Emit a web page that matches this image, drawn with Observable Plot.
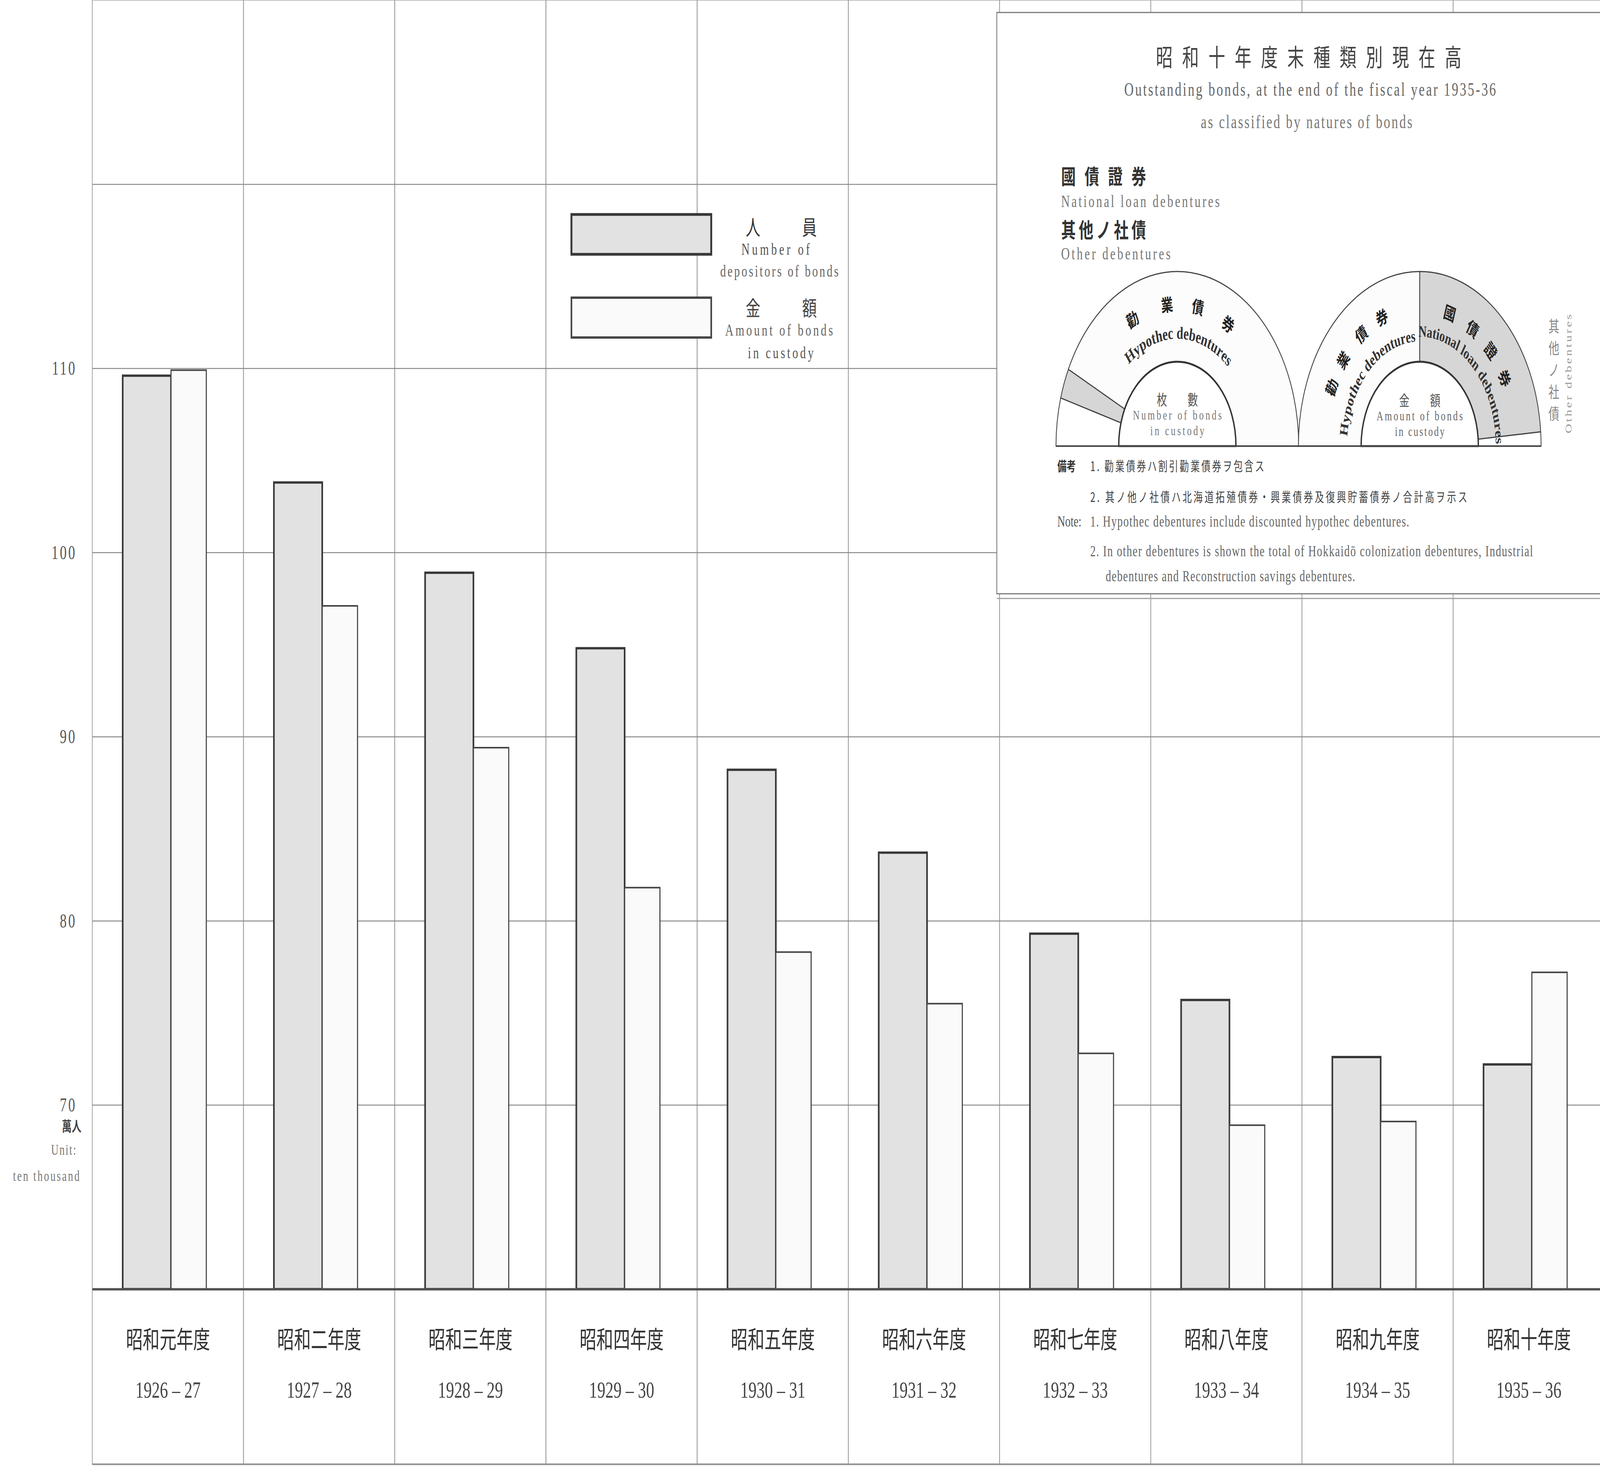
<!DOCTYPE html>
<html><head><meta charset="utf-8">
<script src="https://cdn.jsdelivr.net/npm/d3@7"></script>
<script src="https://cdn.jsdelivr.net/npm/@observablehq/plot@0.6"></script>
<style>
html,body{margin:0;padding:0;background:#fff;overflow:hidden;width:100%;height:100%}
#chart{position:relative;width:100%;height:100%;overflow:hidden}
#chart svg{display:block;overflow:hidden}
#chart [aria-label="y-axis tick label"] text{letter-spacing:6px}
</style></head><body><div id="chart"></div>
<script>
// ---- data ----
const years = ["1926","1927","1928","1929","1930","1931","1932","1933","1934","1935"];
const jpLabels = ["昭和元年度","昭和二年度","昭和三年度","昭和四年度","昭和五年度","昭和六年度","昭和七年度","昭和八年度","昭和九年度","昭和十年度"];
const fiscalLabels = ["1926 – 27","1927 – 28","1928 – 29","1929 – 30","1930 – 31","1931 – 32","1932 – 33","1933 – 34","1934 – 35","1935 – 36"];
// 人員 Number of depositors of bonds (unit: ten thousand)
const depositors = [109.6,103.8,98.9,94.8,88.2,83.7,79.3,75.7,72.6,72.2];
// 金額 Amount of bonds in custody
const amounts = [109.9,97.1,89.4,81.8,78.3,75.5,72.8,68.9,69.1,77.2];
const yTicks = [70,80,90,100,110];
const gridLines = [70,80,90,100,110,120];
const legendJp = ["人　員","金　額"];
const legendEn = [["Number of","depositors of bonds"],["Amount of bonds","in custody"]];
// inset: 1935-36 outstanding bonds by kind (share of half circle, %)
const pieNumberCats = ["其他ノ社債","國債證券","勸業債券"];
const pieNumberShare = [8.9,5.6,85.5];
const pieAmountCats = ["勸業債券","國債證券","其他ノ社債"];
const pieAmountShare = [50.0,47.4,2.6];

const rows = years.map((y,i)=>({year:y, jp:jpLabels[i], fiscal:fiscalLabels[i], depositors:depositors[i], amount:amounts[i]}));

const W = 5894, H = 3758;
const SERIF = "'Liberation Serif','DejaVu Serif',serif";
const CJK = "'Noto Sans CJK JP','Noto Sans CJK TC',sans-serif";
const measureCtx = document.createElement("canvas").getContext("2d");

function txt(parent, s, x, y, o = {}) {
  const t = parent.append("text").attr("x", x).attr("y", y)
    .attr("dominant-baseline", o.baseline || "central")
    .attr("font-family", o.family || SERIF)
    .attr("font-size", o.size || 44)
    .attr("fill", o.fill || "#444")
    .attr("text-anchor", o.anchor || "start")
    .text(s);
  if (o.weight) t.attr("font-weight", o.weight);
  if (o.len) t.attr("textLength", o.len).attr("lengthAdjust", o.adjust || "spacing");
  if (o.transform) t.attr("transform", o.transform);
  return t;
}

function legendMark() {
  const g = d3.create("svg:g");
  const fills = ["#e2e2e2", "#fafafa"], strokes = ["#383838", "#454545"], sw = [7, 6];
  const ys = [549, 762];
  ys.forEach((y, i) => {
    g.append("rect").attr("x", 2105).attr("y", y).attr("width", 515).attr("height", 102)
      .attr("fill", fills[i]).attr("stroke", strokes[i]).attr("stroke-width", sw[i]);
  });
  txt(g, legendJp[0], 2878, 578, {family: CJK, size: 54, anchor: "middle", fill: "#333", len: 262});
  txt(g, legendEn[0][0], 2857, 638, {size: 42, anchor: "middle", fill: "#555", len: 252});
  txt(g, legendEn[0][1], 2871, 694, {size: 42, anchor: "middle", fill: "#666", len: 436});
  txt(g, legendJp[1], 2878, 785, {family: CJK, size: 54, anchor: "middle", fill: "#444", len: 262});
  txt(g, legendEn[1][0], 2870, 845, {size: 42, anchor: "middle", fill: "#666", len: 397});
  txt(g, legendEn[1][1], 2876, 903, {size: 42, anchor: "middle", fill: "#555", len: 242});
  // unit label
  txt(g, "萬人", 300, 2881, {family: CJK, size: 36, anchor: "end", fill: "#444", weight: 700});
  txt(g, "Unit:", 280, 2943, {size: 38, anchor: "end", fill: "#777", len: 92});
  txt(g, "ten thousand", 293, 3010, {size: 38, anchor: "end", fill: "#777", len: 245});
  return g.node();
}

function insetMark() {
  const g = d3.create("svg:g").attr("transform", "translate(3672,32)");
  g.append("rect").attr("width", 2240).attr("height", 1488).attr("fill", "#fff");
  g.append("path").attr("d", "M2240,0H0V1488H2240").attr("fill", "none").attr("stroke", "#7a7a7a").attr("stroke-width", 3);
  g.append("path").attr("d", "M0,1500H2240").attr("fill", "none").attr("stroke", "#a0a0a0").attr("stroke-width", 3);

  txt(g, "昭和十年度末種類別現在高", 1149, 111, {family: CJK, size: 62, anchor: "middle", fill: "#444", len: 1126});
  txt(g, "Outstanding bonds, at the end of the fiscal year 1935-36", 1154, 197, {size: 48, anchor: "middle", fill: "#666", len: 1369});
  txt(g, "as classified by natures of bonds", 1141, 280, {size: 48, anchor: "middle", fill: "#777", len: 779});

  txt(g, "國債證券", 237, 416, {family: CJK, size: 54, fill: "#333", weight: 700, len: 313});
  txt(g, "National loan debentures", 237, 483, {size: 44, fill: "#777", len: 584});
  txt(g, "其他ノ社債", 237, 553, {family: CJK, size: 54, fill: "#333", weight: 700, len: 313});
  txt(g, "Other debentures", 237, 617, {size: 44, fill: "#777", len: 403});

  const R = 447, r0 = 216, cy = 1110;
  const fillFor = {"勸業債券": "#fcfcfc", "國債證券": "#d6d6d6", "其他ノ社債": "#ffffff"};
  const rad = a => a * Math.PI / 180;
  const pt = (cx, r, a) => [cx + r * Math.sin(rad(a)), cy - r * Math.cos(rad(a))];
  const pie = d3.pie().sort(null).startAngle(-Math.PI / 2).endAngle(Math.PI / 2);
  const arc = d3.arc().innerRadius(r0).outerRadius(R);
  const innerArc = d3.arc().innerRadius(0).outerRadius(r0).startAngle(-Math.PI / 2).endAngle(Math.PI / 2);

  function half(cx, cats, vals) {
    const h = g.append("g").attr("transform", `translate(${cx},${cy})`);
    h.selectAll("path.slice").data(pie(vals)).join("path").attr("class", "slice")
      .attr("d", arc).attr("fill", (d, i) => fillFor[cats[i]])
      .attr("stroke", "#444").attr("stroke-width", 3).attr("stroke-linejoin", "round");
    h.append("path").attr("d", innerArc()).attr("fill", "#fff").attr("stroke", "#333").attr("stroke-width", 5);
  }
  // text laid along an arc, glyph by glyph (baseline on radius r), centred on angle a
  function arcText(cx, r, a, s, size) {
    measureCtx.font = `bold ${size}px "Liberation Serif"`;
    const chars = [...s];
    const ws = chars.map(c => measureCtx.measureText(c).width);
    const total = d3.sum(ws);
    let acc = 0;
    const start = a - (total / 2 / r) * 180 / Math.PI;
    chars.forEach((c, i) => {
      const ang = start + ((acc + ws[i] / 2) / r) * 180 / Math.PI;
      acc += ws[i];
      if (c === " ") return;
      const p = pt(cx, r, ang);
      txt(g, c, p[0], p[1], {size, weight: 700, anchor: "middle", fill: "#333", baseline: "alphabetic",
        transform: `rotate(${ang},${p[0]},${p[1]})`});
    });
  }
  function charsOnArc(cx, r, angles, s) {
    [...s].forEach((c, i) => {
      const p = pt(cx, r, angles[i]);
      txt(g, c, p[0], p[1], {family: CJK, size: 44, weight: 700, anchor: "middle", fill: "#222",
        transform: `rotate(${angles[i]},${p[0]},${p[1]})`});
    });
  }

  const cxL = 665, cxR = 1558;
  half(cxL, pieNumberCats, pieNumberShare);
  half(cxR, pieAmountCats, pieAmountShare);
  g.append("path").attr("d", `M${cxL - R},${cy}H${cxR + R}`).attr("stroke", "#444").attr("stroke-width", 4);

  charsOnArc(cxL, 366, [-27, -6, 12, 31], "勸業債券");
  arcText(cxL, 275, 1, "Hypothec debentures", 44);
  charsOnArc(cxR, 360, [-65, -52, -37, -23], "勸業債券");
  arcText(cxR, 268, -44, "Hypothec debentures", 42);
  charsOnArc(cxR, 360, [18, 33, 47, 61], "國債證券");
  arcText(cxR, 280, 44, "National loan debentures", 41);

  txt(g, "枚　　數", cxL, 988, {family: CJK, size: 38, anchor: "middle", fill: "#555"});
  txt(g, "Number of bonds", cxL, 1030, {size: 34, anchor: "middle", fill: "#777", len: 327});
  txt(g, "in custody", cxL, 1070, {size: 34, anchor: "middle", fill: "#777", len: 199});
  txt(g, "金　　額", cxR, 990, {family: CJK, size: 38, anchor: "middle", fill: "#555"});
  txt(g, "Amount of bonds", cxR, 1032, {size: 34, anchor: "middle", fill: "#666", len: 318});
  txt(g, "in custody", cxR, 1072, {size: 34, anchor: "middle", fill: "#666", len: 183});

  [..."其他ノ社債"].forEach((c, i) => txt(g, c, 2052, 801 + i * 56, {family: CJK, size: 40, anchor: "middle", fill: "#888"}));
  txt(g, "Other debentures", 2106, 925, {size: 34, anchor: "middle", fill: "#999", len: 305, transform: "rotate(-90,2106,925)"});

  txt(g, "備考", 223, 1159, {family: CJK, size: 34, fill: "#333", weight: 700});
  txt(g, "1. 勸業債券ハ割引勸業債券ヲ包含ス", 344, 1159, {family: CJK, size: 34, fill: "#444", len: 641});
  txt(g, "2. 其ノ他ノ社債ハ北海道拓殖債券・興業債券及復興貯蓄債券ノ合計高ヲ示ス", 344, 1238, {family: CJK, size: 34, fill: "#444", len: 1389});
  txt(g, "Note:", 223, 1302, {size: 40, fill: "#555"});
  txt(g, "1. Hypothec debentures include discounted hypothec debentures.", 344, 1302, {size: 40, fill: "#666", len: 1175});
  txt(g, "2. In other debentures is shown the total of Hokkaidō colonization debentures, Industrial", 344, 1378, {size: 40, fill: "#666", len: 1631});
  txt(g, "debentures and Reconstruction savings debentures.", 401, 1442, {size: 40, fill: "#666", len: 919});
  return g.node();
}

const chart = Plot.plot({
  width: W,
  height: H,
  marginTop: 0,
  marginBottom: 458,
  marginLeft: 340,
  marginRight: -16,
  style: {background: "#fff", fontFamily: SERIF, overflow: "hidden"},
  x: {type: "band", domain: years, padding: 0, axis: null},
  y: {domain: [60, 130], axis: null},
  marks: [
    Plot.barY(rows, {x: "year", y1: 60, y2: 130, fill: "none", stroke: "#9a9a9a", strokeWidth: 2.5, insetBottom: -448}),
    Plot.ruleY(gridLines, {stroke: "#8a8a8a", strokeWidth: 2.5}),
    Plot.barY(rows, {x: "year", y1: 60, y2: "depositors", fill: "#e2e2e2", stroke: "#383838", strokeWidth: 6, insetLeft: 112, insetRight: 267}),
    Plot.barY(rows, {x: "year", y1: 60, y2: "amount", fill: "#fafafa", stroke: "#454545", strokeWidth: 4, insetLeft: 290, insetRight: 137}),
    Plot.ruleY([60], {stroke: "#505050", strokeWidth: 6}),
    Plot.ruleY([60], {dy: 448, stroke: "#909090", strokeWidth: 4}),
    Plot.axisY({ticks: yTicks, tickSize: 0, tickPadding: 58, fontSize: 50, fontFamily: SERIF, fill: "#555", label: null}),
    Plot.text(rows, {x: "year", y: 60, text: "jp", dy: 132, fontSize: 62, fontFamily: CJK, fill: "#333"}),
    Plot.text(rows, {x: "year", y: 60, text: "fiscal", dy: 258, fontSize: 60, fontFamily: SERIF, fill: "#444"}),
    legendMark,
    insetMark
  ]
});
// fit the 5894×3758 drawing to the actual window
const vw = window.innerWidth || W, vh = window.innerHeight || H;
chart.setAttribute("viewBox", `0 0 ${W} ${H}`);
chart.setAttribute("width", vw);
chart.setAttribute("height", vh);
chart.setAttribute("preserveAspectRatio", "none");
chart.style.maxWidth = "none";
chart.style.width = vw + "px";
chart.style.height = vh + "px";
document.getElementById("chart").appendChild(chart);
</script>
</body></html>
